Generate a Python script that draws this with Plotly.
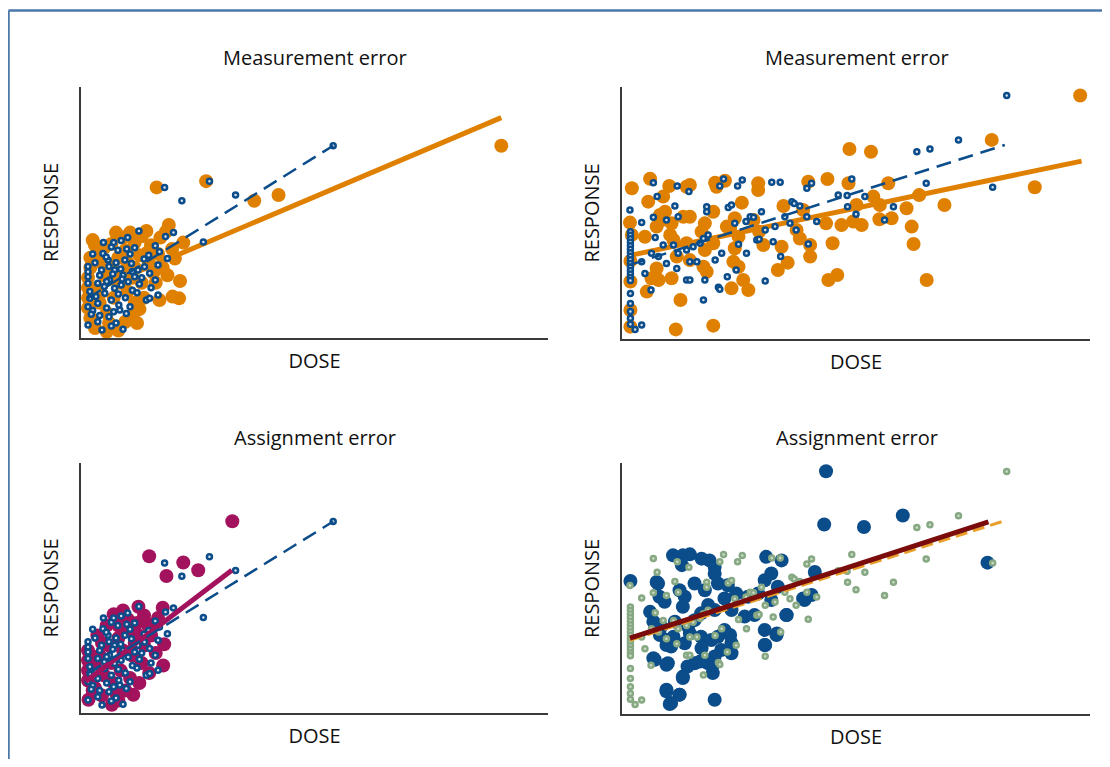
import plotly.graph_objects as go

# ---------------- data (DOSE, RESPONSE in relative units 0-100) ----------------
# True data, set A (top-left & bottom-left panels, small blue rings)
trueA_dose = [54.0, 27.5, 17.9, 21.6, 33.1, 26.2, 19.8, 18.1, 12.4, 15.9, 8.6, 18.5, 16.8, 4.7, 5.8,
              7.9, 9.4, 10.8, 12.2, 13.6, 14.7, 16.5, 15.9, 14.0, 14.7, 16.5, 1.5, 1.5, 1.5, 1.9,
              1.9, 1.5, 4.5, 6.5, 3.6, 8.3, 9.7, 8.1, 6.5, 3.6, 5.1, 7.2, 8.6, 10.1, 11.5,
              6.1, 4.4, 7.2, 6.5, 5.4, 3.6, 10.5, 9.0, 7.5, 6.0, 4.0, 5.0, 8.0, 9.5, 11.0,
              12.5, 13.5, 11.5, 7.0, 10.0, 14.5, 2.5, 4.0, 6.0, 7.5, 9.0, 3.0, 2.5, 5.5, 7.0,
              10.5, 12.0, 8.5, 6.8, 9.8, 13.0, 15.0, 4.8, 11.0, 1.5, 1.5, 2.2, 3.2, 5.5, 8.8]
trueA_resp = [76.6, 62.5, 60.0, 54.7, 57.0, 38.2, 42.0, 40.4, 42.6, 36.8, 38.8, 31.7, 34.4, 33.7, 31.1,
              35.0, 31.1, 29.7, 27.1, 28.4, 25.8, 29.1, 23.1, 15.1, 15.8, 17.1, 26.4, 24.4, 21.8, 18.5,
              15.8, 5.2, 3.2, 4.8, 6.5, 11.2, 9.8, 13.1, 15.1, 13.8, 17.8, 19.8, 21.1, 22.4, 24.4,
              23.1, 27.1, 27.1, 36.3, 32.3, 21.8, 33.5, 25.0, 30.0, 28.5, 25.0, 20.5, 17.5, 16.0, 19.0,
              21.5, 31.5, 36.0, 38.0, 40.0, 33.0, 11.0, 9.0, 8.5, 6.0, 3.5, 30.0, 33.5, 12.0, 10.5,
              12.5, 18.0, 27.5, 25.5, 35.5, 24.0, 20.0, 38.0, 26.5, 28.5, 12.5, 9.5, 16.5, 22.5, 23.5]

# Measured with error, set A (top-left, orange)
measA_dose = [90.0, 42.3, 37.1, 26.8, 16.2, 14.0, 21.2, 19.6, 21.0, 16.8, 20.1, 18.2, 21.9, 19.5, 17.5,
              18.5, 16.0, 15.0, 13.0, 10.5, 9.0, 6.5, 5.0, 3.5, 2.0, 1.5, 1.5, 1.5, 1.5, 2.0,
              3.0, 5.5, 8.0, 9.5, 11.0, 12.5, 13.5, 11.5, 10.0, 8.5, 7.0, 5.5, 4.0, 3.5, 5.0,
              6.5, 8.0, 10.0, 11.5, 12.5, 14.5, 15.5, 13.0, 11.0, 9.0, 7.0, 4.5, 3.0, 7.5, 11.5,
              16.5, 17.0, 12.0, 6.0, 2.5, 9.5, 18.8, 14.2, 4.2, 2.0]
measA_resp = [76.6, 57.0, 54.7, 62.5, 60.0, 42.6, 22.7, 16.5, 15.8, 15.1, 31.7, 42.4, 38.0, 35.5, 28.0,
              25.0, 22.0, 37.0, 40.5, 42.0, 40.0, 37.5, 36.0, 34.0, 28.0, 24.0, 20.0, 16.0, 12.0, 8.0,
              4.0, 2.5, 3.0, 6.5, 9.0, 11.5, 16.0, 14.0, 18.5, 22.0, 16.0, 10.0, 14.0, 20.0, 25.0,
              29.0, 32.0, 30.0, 28.0, 33.0, 30.0, 26.0, 22.0, 24.0, 26.0, 24.0, 30.0, 37.0, 42.0, 38.0,
              33.5, 40.0, 6.0, 6.0, 39.0, 35.0, 45.0, 34.0, 18.0, 32.0]

# Assignment error, set A (bottom-left, magenta)
assignA_dose = [32.4, 14.6, 21.9, 18.3, 25.1, 12.3, 17.5, 11.2, 6.6, 1.6, 17.6, 14.6, 1.5, 1.5, 1.5,
                1.5, 3.0, 4.5, 8.0, 9.5, 7.0, 5.0, 3.0, 4.0, 6.0, 8.0, 10.0, 12.0, 13.5, 9.0,
                7.0, 5.5, 3.5, 6.5, 8.5, 10.5, 12.5, 13.0, 11.0, 9.0, 11.5, 13.5, 15.0, 16.0, 14.5,
                10.0, 8.0, 4.5, 2.5, 7.5, 15.5, 16.5, 17.8, 12.0]
assignA_resp = [76.7, 62.7, 60.2, 54.8, 57.1, 42.5, 42.1, 7.3, 3.3, 5.3, 19.0, 16.0, 25.0, 21.0, 17.0,
                13.0, 10.0, 7.0, 5.0, 9.0, 12.0, 15.0, 19.0, 23.0, 27.0, 30.0, 33.0, 36.0, 39.0, 41.0,
                39.5, 35.0, 31.0, 20.0, 17.0, 14.0, 12.0, 20.0, 23.0, 25.0, 28.0, 27.0, 31.0, 24.0, 34.5,
                37.5, 35.0, 28.0, 9.0, 8.0, 35.5, 38.0, 27.5, 31.5]

# True data, set B (top-right blue rings, bottom-right green rings)
trueB_dose = [82.2, 71.9, 63.0, 65.8, 79.2, 65.0, 49.1, 51.9, 58.0, 56.1, 50.0, 48.2, 48.1, 46.2, 40.5,
              39.5, 33.8, 32.0, 25.7, 24.7, 21.7, 20.9, 18.1, 18.1, 22.7, 23.4, 14.3, 11.8, 6.7, 7.5,
              11.3, 4.2, 6.7, 1.7, 7.1, 4.9, 6.2, 4.2, 2.8, 17.4, 13.8, 14.5, 17.7, 20.6, 20.9,
              22.5, 24.4, 30.6, 33.9, 39.8, 37.2, 35.9, 34.8, 36.3, 36.8, 38.0, 41.6, 39.5, 32.7, 30.6,
              28.8, 27.4, 28.1, 29.8, 26.5, 24.1, 24.9, 26.6, 29.3, 32.3, 21.3, 19.9, 16.7, 17.4, 18.4,
              15.2, 13.8, 12.0, 11.7, 14.5, 16.0, 9.5, 8.8, 11.0, 7.8, 6.3, 9.5, 12.0, 4.2,
              1.8, 1.8, 1.8, 1.8, 1.8, 1.8, 1.8, 1.8, 1.8, 1.8, 1.8, 1.8, 1.8, 1.8, 1.8,
              1.8, 1.8, 1.8, 1.8, 1.8]
trueB_resp = [96.6, 79.0, 74.3, 75.4, 60.2, 61.8, 63.5, 56.5, 52.5, 47.2, 49.5, 52.5, 56.9, 57.1, 61.8,
              59.8, 62.2, 62.2, 63.1, 60.7, 63.5, 60.7, 52.5, 50.5, 52.2, 53.2, 58.5, 60.7, 62.0, 56.5,
              52.8, 46.2, 48.3, 51.2, 40.3, 26.0, 19.4, 5.6, 3.8, 15.5, 23.4, 23.4, 23.4, 20.5, 19.7,
              24.7, 27.4, 23.0, 32.7, 37.7, 43.3, 45.9, 48.5, 54.5, 53.8, 52.8, 46.6, 48.5, 44.6, 43.3,
              39.3, 48.5, 48.3, 50.5, 46.6, 45.9, 37.6, 34.0, 39.6, 38.6, 34.0, 31.3, 38.0, 39.9, 41.3,
              36.6, 35.3, 34.0, 28.0, 30.7, 30.7, 30.0, 37.3, 37.3, 32.7, 34.0, 47.2, 48.5, 30.7,
              42.6, 41.2, 39.8, 38.4, 37.0, 35.6, 34.2, 32.8, 31.4, 30.0, 28.6, 27.2, 25.8, 24.4, 23.2,
              18.1, 14.1, 10.9, 8.2, 5.9]

# Measured with error, set B (top-right, orange)
measB_dose = [97.9, 79.0, 48.6, 53.2, 88.2, 68.9, 63.5, 61.9, 62.3, 65.1, 56.9, 55.1, 57.6, 55.0, 53.7,
              60.8, 43.9, 39.8, 48.4, 50.1, 51.2, 49.4, 46.9, 43.6, 45.0, 44.1, 46.0, 40.2, 40.2, 38.0,
              37.3, 38.7, 34.5, 35.4, 33.3, 34.1, 29.1, 29.1, 29.3, 30.2, 28.1, 25.6, 24.1, 23.1, 22.4,
              24.9, 24.1, 23.8, 24.9, 25.9, 27.0, 23.4, 19.5, 19.9, 20.2, 22.0, 19.5, 17.7, 17.0, 19.5,
              17.7, 17.4, 18.1, 14.5, 13.8, 13.1, 14.5, 13.8, 14.5, 11.7, 12.5, 11.5, 10.6, 11.0, 10.3,
              10.6, 10.1, 9.2, 8.8, 8.1, 8.5, 7.4, 6.3, 7.8, 7.4, 5.3, 4.9, 6.0, 5.6, 2.1,
              1.7, 2.1, 1.8, 1.8, 1.8, 1.8]
measB_resp = [96.6, 79.0, 75.4, 74.3, 60.2, 53.2, 57.1, 44.6, 37.7, 23.4, 61.8, 53.2, 47.9, 47.5, 56.5,
              51.9, 63.5, 62.4, 61.8, 53.2, 45.2, 46.6, 45.2, 45.9, 38.0, 23.4, 25.4, 32.7, 37.3, 39.9,
              43.3, 51.2, 52.8, 30.3, 27.4, 36.6, 61.8, 59.1, 42.6, 37.3, 47.2, 54.1, 47.9, 43.9, 44.6,
              40.6, 36.0, 30.7, 28.7, 23.4, 19.4, 20.1, 5.3, 62.0, 60.4, 62.8, 50.5, 45.9, 42.6, 38.0,
              35.3, 28.7, 26.7, 61.1, 60.4, 48.5, 48.5, 38.0, 31.3, 32.7, 15.5, 3.8, 24.1, 39.3, 41.3,
              45.9, 60.7, 50.5, 56.5, 49.2, 47.2, 44.6, 24.1, 23.4, 28.0, 18.8, 40.6, 63.6, 54.5, 59.8,
              46.2, 41.3, 31.0, 22.8, 11.5, 4.9]

# Assignment error, set B (bottom-right, large blue)
assignB_dose = [43.6, 43.2, 51.7, 60.0, 78.1, 1.8, 10.9, 13.0, 14.5, 17.0, 18.7, 19.8, 12.8, 7.7, 8.0,
                9.1, 12.3, 13.4, 13.0, 15.5, 17.7, 19.8, 20.5, 22.6, 24.4, 21.9, 23.4, 19.8, 18.4, 16.9,
                15.5, 14.1, 11.3, 8.4, 7.0, 9.5, 10.5, 13.4, 14.5, 16.9, 19.1, 20.5, 21.9, 23.4, 21.2,
                19.8, 18.4, 19.4, 15.5, 14.0, 13.0, 9.8, 7.0, 9.5, 10.5, 12.3, 19.8, 30.5, 31.9, 34.1,
                30.8, 33.3, 31.9, 29.1, 26.9, 26.2, 28.3, 35.1, 30.5, 33.0, 30.5, 41.2, 39.0, 38.7, 40.5,
                9.5, 10.2, 12.3, 13.0, 6.7, 9.5, 7.4, 6.0, 6.7, 8.1, 11.0, 9.5, 17.0, 16.7, 19.5,
                23.4, 23.1, 30.6, 33.1, 35.2]
assignB_resp = [96.7, 75.5, 74.5, 79.1, 60.3, 53.0, 63.2, 63.2, 63.6, 61.9, 61.2, 58.6, 59.3, 52.0, 46.7,
                44.7, 49.3, 46.7, 42.7, 52.0, 49.3, 55.9, 52.0, 51.3, 48.0, 46.0, 41.4, 41.4, 43.4, 40.1,
                37.4, 34.8, 36.8, 34.8, 36.1, 29.5, 26.9, 28.2, 32.1, 30.8, 29.5, 30.8, 33.5, 28.2, 25.5,
                22.9, 20.2, 16.3, 20.2, 18.9, 14.9, 20.2, 21.6, 9.7, 4.4, 7.7, 5.7, 53.3, 56.0, 61.2,
                62.6, 50.7, 45.4, 48.0, 46.7, 38.8, 39.4, 39.4, 33.5, 31.5, 27.5, 56.6, 45.4, 46.0, 47.4,
                9.0, 4.0, 7.7, 14.3, 22.2, 19.6, 52.6, 40.7, 36.8, 31.5, 30.8, 27.5, 26.2, 20.9, 19.6,
                24.2, 31.5, 27.5, 32.1, 39.4]

# Fitted regression lines (endpoints)
fit_trueA_dose, fit_trueA_resp = [1.5, 54.0], [15.9, 76.6]
fit_measA_dose, fit_measA_resp = [1.0, 90.0], [17.6, 87.8]
fit_assignA_dose, fit_assignA_resp = [1.0, 32.3], [12.6, 57.1]
fit_trueB_dose, fit_trueB_resp = [1.7, 81.8], [29.4, 77.0]
fit_measB_dose, fit_measB_resp = [2.0, 98.2], [33.3, 70.6]
fit_assignB_dose, fit_assignB_resp = [1.7, 78.3], [30.2, 76.5]

titles = ["Measurement error", "Measurement error", "Assignment error", "Assignment error"]
x_label = "DOSE"
y_label = "RESPONSE"

# ---------------- styling ----------------
ORANGE = "#e08000"
BLUE = "#0b4c8a"
MAGENTA = "#a3125c"
GREEN = "#86a883"
DARKRED = "#7a0c0c"
ORANGE_D = "#e8a02a"
FONT = "Open Sans"

# page body has an 8px margin: figure sized to fit the window, screen px -> figure px = s - 8
OFF = 8
W, H = 1110 - 2 * OFF, 767 - 2 * OFF

def fx(sx):
    return (sx - OFF) / W

def fy(sy):
    return (H - (sy - OFF)) / H

fig = go.Figure()

def big(x, y, color, ax):
    fig.add_trace(go.Scatter(x=x, y=y, mode="markers", xaxis="x" + ax, yaxis="y" + ax,
                             marker=dict(size=14, color=color, line=dict(width=0)),
                             showlegend=False, hoverinfo="skip"))

def ring(x, y, color, fill, ax):
    fig.add_trace(go.Scatter(x=x, y=y, mode="markers", xaxis="x" + ax, yaxis="y" + ax,
                             marker=dict(size=5, color=fill, line=dict(width=2.5, color=color)),
                             showlegend=False, hoverinfo="skip"))

def line(x, y, color, width, dash, ax):
    fig.add_trace(go.Scatter(x=x, y=y, mode="lines", xaxis="x" + ax, yaxis="y" + ax,
                             line=dict(color=color, width=width, dash=dash),
                             showlegend=False, hoverinfo="skip"))

# panel 1: top-left
big(measA_dose, measA_resp, ORANGE, "")
line(fit_measA_dose, fit_measA_resp, ORANGE, 5, "solid", "")
ring(trueA_dose, trueA_resp, BLUE, "#d8e3ee", "")
line(fit_trueA_dose, fit_trueA_resp, BLUE, 2.5, "15px,8px", "")

# panel 2: top-right
big(measB_dose, measB_resp, ORANGE, "2")
line(fit_measB_dose, fit_measB_resp, ORANGE, 5, "solid", "2")
ring(trueB_dose, trueB_resp, BLUE, "#d8e3ee", "2")
line(fit_trueB_dose, fit_trueB_resp, BLUE, 2.5, "15px,8px", "2")

# panel 3: bottom-left
big(assignA_dose, assignA_resp, MAGENTA, "3")
ring(trueA_dose, trueA_resp, BLUE, "#d8e3ee", "3")
line(fit_assignA_dose, fit_assignA_resp, MAGENTA, 5, "solid", "3")
line(fit_trueA_dose, fit_trueA_resp, BLUE, 2.5, "15px,8px", "3")

# panel 4: bottom-right
big(assignB_dose, assignB_resp, BLUE, "4")
ring(trueB_dose, trueB_resp, GREEN, "#cfdccb", "4")
line(fit_trueB_dose, fit_trueB_resp, ORANGE_D, 3, "12px,6px", "4")
line(fit_assignB_dose, fit_assignB_resp, DARKRED, 5, "solid", "4")

# panel boxes in screen pixels (left, right, top, bottom)
boxes = {
    "": (81, 548, 87, 338),
    "2": (622, 1090, 87, 339),
    "3": (81, 548, 463, 713),
    "4": (622, 1090, 463, 714),
}

layout = dict(width=W, height=H, paper_bgcolor="white", plot_bgcolor="white",
              margin=dict(l=0, r=0, t=0, b=0), font=dict(family=FONT, color="#111", size=20),
              showlegend=False)

for k, (l, r, t, b) in boxes.items():
    common = dict(showgrid=False, zeroline=False, showticklabels=False, ticks="",
                  showline=True, linecolor="#3a3a3a", linewidth=2, automargin=False, range=[0, 100],
                  fixedrange=True)
    layout["xaxis" + k] = dict(common, domain=[fx(l), fx(r)], anchor="y" + k,
                               title=dict(text=x_label, standoff=15, font=dict(size=20)))
    layout["yaxis" + k] = dict(common, domain=[fy(b), fy(t)], anchor="x" + k,
                               title=dict(text=y_label, standoff=15, font=dict(size=20)))

fig.update_layout(**layout)

# subplot titles (screen centre positions)
title_pos = [(315, 58), (857, 58), (315, 437), (857, 437)]
for t, (cx, cy) in zip(titles, title_pos):
    fig.add_annotation(text=t, x=fx(cx), y=fy(cy), xref="paper", yref="paper",
                       showarrow=False, xanchor="center", yanchor="middle", font=dict(size=20))

# outer frame (top and left edges)
fig.add_shape(type="line", xref="paper", yref="paper", x0=fx(8.5), x1=1.0, y0=fy(10.5), y1=fy(10.5),
              line=dict(color="#4a78a8", width=2.5))
fig.add_shape(type="line", xref="paper", yref="paper", x0=fx(8.5), x1=fx(8.5), y0=0, y1=fy(10.5),
              line=dict(color="#4a78a8", width=2.5))

fig.write_html("out.html")
